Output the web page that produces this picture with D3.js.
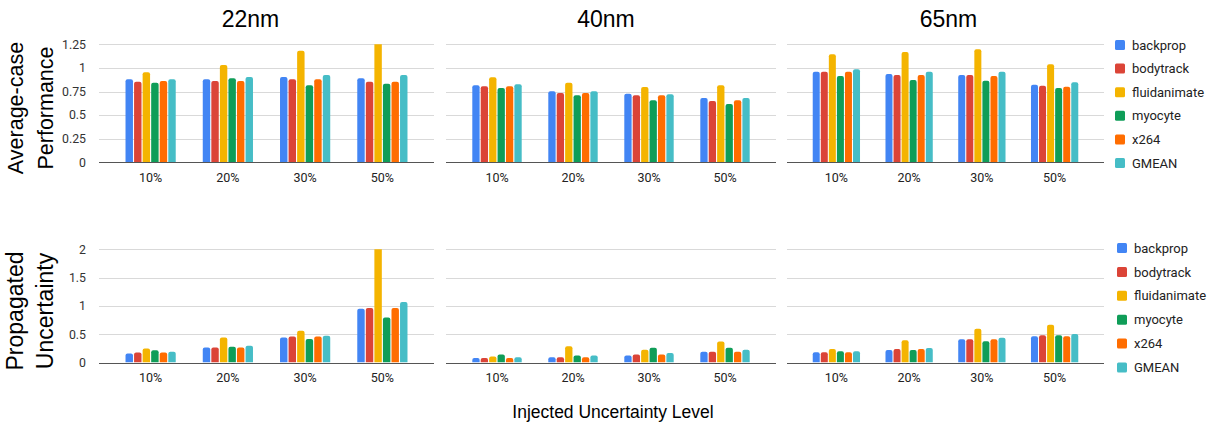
<!DOCTYPE html>
<html>
<head>
<meta charset="utf-8">
<script src="https://cdn.jsdelivr.net/npm/d3@7"></script>
<style>
  html, body { margin: 0; padding: 0; background: #fff; }
  svg { display: block; }
</style>
</head>
<body>
<svg id="chart" width="1218" height="422"></svg>
<script>
// ---------- data ----------
const categories = ["10%", "20%", "30%", "50%"];
const series = ["backprop", "bodytrack", "fluidanimate", "myocyte", "x264", "GMEAN"];
const seriesColors = ["#4285F4", "#DB4437", "#F4B400", "#0F9D58", "#FF6D00", "#46BDC6"];
const nodes = ["22nm", "40nm", "65nm"];

const perfTicks = [0, 0.25, 0.5, 0.75, 1, 1.25];
const perfTickLabels = ["0", "0.25", "0.5", "0.75", "1", "1.25"];
const uncTicks = [0, 0.5, 1, 1.5, 2];
const uncTickLabels = ["0", "0.5", "1", "1.5", "2"];

// rows = series, columns = categories
const perf22 = [
  [0.879, 0.879, 0.903, 0.890],
  [0.854, 0.861, 0.879, 0.854],
  [0.953, 1.030, 1.182, 1.300],
  [0.843, 0.890, 0.816, 0.833],
  [0.861, 0.861, 0.879, 0.854],
  [0.879, 0.903, 0.925, 0.925]
];
const perf40 = [
  [0.816, 0.752, 0.727, 0.681],
  [0.805, 0.734, 0.710, 0.649],
  [0.900, 0.843, 0.798, 0.816],
  [0.787, 0.710, 0.657, 0.618],
  [0.805, 0.734, 0.710, 0.657],
  [0.826, 0.752, 0.720, 0.681]
];
const perf65 = [
  [0.960, 0.935, 0.925, 0.822],
  [0.960, 0.925, 0.925, 0.811],
  [1.144, 1.168, 1.197, 1.038],
  [0.914, 0.872, 0.865, 0.787],
  [0.960, 0.925, 0.914, 0.801],
  [0.985, 0.960, 0.960, 0.847]
];
const unc22 = [
  [0.159, 0.265, 0.442, 0.949],
  [0.177, 0.265, 0.460, 0.961],
  [0.248, 0.442, 0.560, 2.100],
  [0.218, 0.277, 0.413, 0.796],
  [0.177, 0.265, 0.460, 0.961],
  [0.188, 0.295, 0.472, 1.067]
];
const unc40 = [
  [0.081, 0.093, 0.122, 0.192],
  [0.081, 0.093, 0.140, 0.192],
  [0.105, 0.285, 0.227, 0.372],
  [0.140, 0.122, 0.262, 0.262],
  [0.081, 0.093, 0.140, 0.192],
  [0.093, 0.122, 0.169, 0.227]
];
const unc65 = [
  [0.179, 0.220, 0.410, 0.462],
  [0.179, 0.237, 0.410, 0.480],
  [0.237, 0.393, 0.595, 0.665],
  [0.197, 0.220, 0.376, 0.480],
  [0.179, 0.237, 0.410, 0.462],
  [0.197, 0.254, 0.439, 0.503]
];

// ---------- layout ----------
const svg = d3.select("#chart");
const tickFont = "Roboto, 'Noto Sans', sans-serif";
const titleFont = "'Liberation Sans', Arial, sans-serif";

const panelX = [[99, 434], [446, 776], [787, 1104]];
const titleX = [250.5, 606, 948.5];
const pad = 13;
const rows = [
  { y: [162.3, 44.3], max: 1.25, ticks: perfTicks, labels: perfTickLabels, data: [perf22, perf40, perf65],
    catY: 181.5, legendY: 45, legendStep: 23.6, legendTextX: 1132, legendX: 1115,
    ylab: ["Average-case", "Performance"], ylabSize: 21.5, ylabCenter: 108 },
  { y: [362.5, 249.3], max: 2, ticks: uncTicks, labels: uncTickLabels, data: [unc22, unc40, unc65],
    catY: 382, legendY: 248, legendStep: 23.9, legendTextX: 1134, legendX: 1117,
    ylab: ["Propagated", "Uncertainty"], ylabSize: 23, ylabCenter: 311 }
];

function topRoundedBar(x, y, w, h, r) {
  if (h <= 0) return "";
  r = Math.min(r, w / 2, h);
  return `M${x},${y + h}V${y + r}Q${x},${y} ${x + r},${y}H${x + w - r}Q${x + w},${y} ${x + w},${y + r}V${y + h}Z`;
}

const defs = svg.append("defs");

rows.forEach((row, ri) => {
  const y = d3.scaleLinear().domain([0, row.max]).range(row.y);

  panelX.forEach((px, pi) => {
    const g = svg.append("g");
    const x0 = d3.scaleBand().domain(categories).range([px[0] + pad, px[1] - pad]).padding(0);
    const groupW = x0.bandwidth() * 0.65;
    const x1 = d3.scaleBand().domain(series).range([0, groupW]).paddingInner(0.13);

    // gridlines
    g.selectAll("line.grid").data(row.ticks.filter(t => t !== 0)).enter().append("line")
      .attr("x1", px[0]).attr("x2", px[1])
      .attr("y1", d => Math.round(y(d)) + 0.5).attr("y2", d => Math.round(y(d)) + 0.5)
      .attr("stroke", "#d9d9d9").attr("stroke-width", 1);

    // y tick labels (only left panel)
    if (pi === 0) {
      g.selectAll("text.ytick").data(row.ticks).enter().append("text")
        .attr("x", 86).attr("y", d => y(d) + 4.3)
        .attr("text-anchor", "end")
        .attr("font-family", tickFont).attr("font-size", 12.3).attr("fill", "#333")
        .text((d, i) => row.labels[i]);
    }

    // clip
    const clipId = `clip-${ri}-${pi}`;
    defs.append("clipPath").attr("id", clipId).append("rect")
      .attr("x", px[0]).attr("y", row.y[1]).attr("width", px[1] - px[0]).attr("height", row.y[0] - row.y[1]);

    const bars = g.append("g").attr("clip-path", `url(#${clipId})`);
    const data = row.data[pi];
    categories.forEach((c, ci) => {
      const gx = x0(c) + x0.bandwidth() / 2 - groupW / 2;
      series.forEach((s, si) => {
        const v = data[si][ci];
        const top = y(v);
        bars.append("path")
          .attr("d", topRoundedBar(gx + x1(s), top, x1.bandwidth(), y(0) - top, 2))
          .attr("fill", seriesColors[si]);
      });
    });

    // baseline
    g.append("line")
      .attr("x1", px[0]).attr("x2", px[1])
      .attr("y1", Math.round(y(0)) + 0.5).attr("y2", Math.round(y(0)) + 0.5)
      .attr("stroke", "#555").attr("stroke-width", 1);

    // category labels
    g.selectAll("text.cat").data(categories).enter().append("text")
      .attr("x", d => x0(d) + x0.bandwidth() / 2)
      .attr("y", row.catY)
      .attr("text-anchor", "middle")
      .attr("font-family", tickFont).attr("font-size", 12.5).attr("fill", "#222")
      .text(d => d);
  });

  // legend
  const lg = svg.append("g");
  if (ri === 1) {
    defs.append("clipPath").attr("id", "legclip").append("rect")
      .attr("x", 1100).attr("y", 230).attr("width", 108).attr("height", 160);
    lg.attr("clip-path", "url(#legclip)");
  }
  series.forEach((s, si) => {
    const cy = row.legendY + si * row.legendStep;
    lg.append("rect").attr("x", row.legendX).attr("y", cy - 5).attr("width", 10).attr("height", 10)
      .attr("rx", 1.5).attr("fill", seriesColors[si]);
    lg.append("text").attr("x", row.legendTextX).attr("y", cy + 4.6)
      .attr("font-family", tickFont).attr("font-size", 13).attr("fill", "#222")
      .text(s);
  });

  // y axis title (two lines, rotated)
  row.ylab.forEach((t, li) => {
    svg.append("text")
      .attr("transform", `translate(${li === 0 ? 22.5 : 52.5},${row.ylabCenter}) rotate(-90)`)
      .attr("text-anchor", "middle")
      .attr("font-family", titleFont).attr("font-size", row.ylabSize).attr("fill", "#000")
      .text(t);
  });
});

// node titles
svg.selectAll("text.node").data(nodes).enter().append("text")
  .attr("x", (d, i) => titleX[i]).attr("y", 27)
  .attr("text-anchor", "middle")
  .attr("font-family", titleFont).attr("font-size", 23).attr("fill", "#000")
  .text(d => d);

// x axis title
svg.append("text")
  .attr("x", 613).attr("y", 418)
  .attr("text-anchor", "middle")
  .attr("font-family", titleFont).attr("font-size", 17.5).attr("fill", "#000")
  .text("Injected Uncertainty Level");
</script>
</body>
</html>
